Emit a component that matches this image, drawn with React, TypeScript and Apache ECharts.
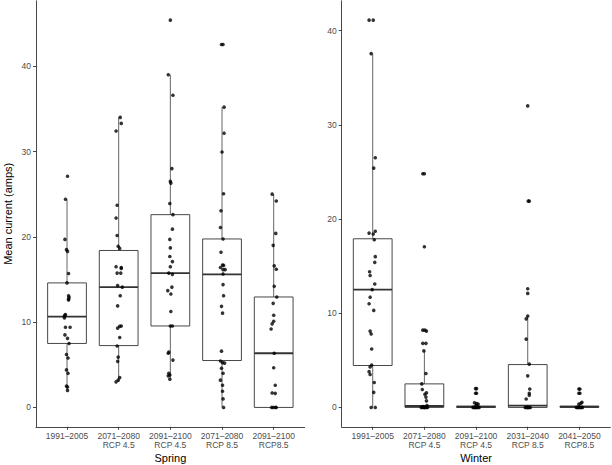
import React, { useEffect, useRef } from "react";
import * as echarts from "echarts";

const springCategories = ["1991–2005", "2071–2080\nRCP 4.5", "2091–2100\nRCP 4.5", "2071–2080\nRCP 8.5", "2091–2100\nRCP8.5"];
const winterCategories = ["1991–2005", "2071–2080\nRCP 4.5", "2091–2100\nRCP 4.5", "2031–2040\nRCP 8.5", "2041–2050\nRCP8.5"];
const yTicks = [0, 10, 20, 30, 40];

// box stats: [min whisker, Q1, median, Q3, max whisker]
const springBoxes = [
  [2.0, 7.5, 10.65, 14.6, 24.4],
  [3.0, 7.25, 14.1, 18.4, 34.0],
  [3.3, 9.55, 15.75, 22.6, 39.0],
  [0, 5.5, 15.6, 19.75, 35.2],
  [0, 0, 6.35, 12.95, 25.0],
];
const winterBoxes = [
  [0, 4.45, 12.5, 17.9, 37.55],
  [0, 0, 0.15, 2.5, 6.0],
  [0, 0, 0.05, 0.15, 0.35],
  [0, 0, 0.2, 4.55, 9.7],
  [0, 0, 0.05, 0.15, 0.35],
];

// points: [jitter offset (category units), value]
const spring1 = [[0.01,27.1],[-0.03,24.4],[-0.04,19.7],[-0.01,18.5],[0.01,18.3],[0.03,15.7],[0,14.6],[0.03,13.1],[0.04,12.9],[0.03,12.7],[0.03,12.6],[-0.03,10.9],[-0.04,10.8],[-0.05,10.7],[-0.05,10.5],[-0.03,9.4],[0.06,9.4],[-0.04,8.5],[0.01,8.1],[0.04,7.5],[-0.01,6.2],[0.02,5.8],[-0.01,4.4],[0.02,4.0],[-0.01,2.5],[0.01,2.4],[0.01,2.0]];
const spring2 = [[0.03,34.0],[0.05,33.3],[-0.05,32.4],[-0.03,23.7],[-0.05,22.2],[-0.03,20.15],[-0.01,18.9],[0.02,18.65],[-0.05,16.5],[0.05,16.4],[0.05,16.3],[-0.03,15.75],[0.04,15.75],[-0.02,14.3],[0.07,14.1],[0.03,13.1],[-0.02,11.9],[0.05,9.55],[0.02,9.5],[-0.02,9.3],[0.02,8.2],[-0.03,7.2],[-0.01,5.9],[-0.02,5.4],[0.02,3.5],[-0.01,3.2],[-0.05,3.0]];
const spring3 = [[0,45.4],[-0.04,39.0],[0.05,36.6],[0.03,28.0],[0,26.5],[0.01,26.3],[-0.01,23.9],[0.05,22.6],[0.04,20.9],[-0.01,19.7],[0,18.7],[-0.01,17.7],[0.04,17.1],[0,16.5],[-0.03,15.75],[0.04,15.6],[0.03,14.1],[-0.05,13.7],[0.01,13.3],[0.01,11.25],[0,9.55],[0.04,9.55],[-0.03,6.5],[-0.04,6.35],[0.05,5.55],[-0.03,4.0],[-0.01,3.8],[-0.04,3.7],[-0.01,3.3]];
const spring4 = [[-0.01,42.55],[0.02,42.55],[0.04,35.2],[0.04,32.15],[0,29.95],[0.03,25.05],[-0.02,23.05],[-0.03,21.1],[0.02,19.75],[-0.02,18.2],[0.01,16.7],[0.03,16.65],[-0.03,16.4],[0.02,16.15],[0.06,16.15],[0.02,15.65],[0.02,14.4],[0.03,13.1],[-0.01,11.85],[0.01,11.05],[-0.01,6.6],[-0.03,5.45],[0.01,5.25],[0.05,5.2],[-0.01,4.6],[0.02,4.0],[-0.03,3.2],[0.01,2.6],[0.01,1.9],[0.02,1.0],[0.03,0.0]];
const spring5 = [[-0.03,25.0],[0.05,24.2],[0.04,20.4],[-0.01,19.0],[0.01,16.6],[0.05,16.2],[0.01,14.2],[0.06,12.95],[-0.01,12.2],[0,10.8],[0,10.1],[-0.03,9.8],[-0.05,9.2],[0.01,6.35],[0,4.65],[0.03,2.6],[-0.03,1.7],[0.03,1.65],[-0.04,0],[-0.01,0],[0.03,0],[0.05,0]];

const winter1 = [[-0.07,41.1],[0.01,41.1],[-0.03,37.55],[0.05,26.5],[0.02,25.4],[0.05,18.7],[-0.07,18.5],[0.01,18.4],[0.03,17.8],[0.05,16.0],[0.04,15.4],[-0.06,14.4],[-0.05,14.0],[0.04,13.1],[-0.01,12.5],[-0.05,11.7],[-0.07,11.0],[0.02,10.3],[-0.05,8.1],[-0.03,7.8],[-0.02,6.2],[-0.02,4.5],[-0.05,4.3],[-0.07,3.8],[-0.05,3.5],[0.03,2.65],[0.02,1.6],[-0.03,0],[0.05,0]];
const winter2 = [[-0.03,24.8],[0,24.8],[0,17.05],[-0.03,8.2],[0.01,8.2],[0.04,8.1],[-0.03,6.8],[0.03,6.8],[-0.01,6.0],[0.03,3.6],[-0.05,2.5],[-0.04,1.9],[0.04,1.55],[0.01,1.4],[0.03,1.1],[0.04,0.7],[0.05,0.2],[-0.03,0.1],[-0.06,0],[-0.04,0],[-0.01,0],[0,0],[0.01,0],[0.04,0],[0.06,0]];
const winter3 = [[-0.01,2.0],[0.01,2.0],[-0.01,1.5],[0.01,1.5],[-0.03,0.5],[0.01,0.4],[0.04,0.35],[0,0.2],[-0.06,0],[-0.04,0],[-0.03,0],[-0.01,0],[0,0],[0.01,0],[0.04,0],[0.06,0]];
const winter4 = [[0,32.0],[0.01,21.9],[0.03,21.9],[0,12.6],[0,12.1],[0,9.7],[-0.03,9.4],[-0.03,7.25],[0.03,4.6],[0,3.35],[0.04,1.95],[0.03,1.5],[0.03,1.3],[-0.03,0.9],[-0.05,0],[-0.03,0],[-0.01,0],[0,0],[0.01,0],[0.03,0],[0.05,0]];
const winter5 = [[-0.01,1.95],[0.01,1.95],[-0.01,1.5],[0.01,1.5],[0.03,0.45],[0.05,0.55],[-0.01,0.35],[-0.06,0],[-0.04,0],[-0.02,0],[0,0],[0.02,0],[0.04,0],[0.06,0]];

const springPoints = [spring1, spring2, spring3, spring4, spring5];
const winterPoints = [winter1, winter2, winter3, winter4, winter5];

const FONT = "'Liberation Sans', Arial, sans-serif";
const LINE = "#333333";

function range(groups: number[][][]) {
  let max = 0;
  groups.forEach((g) => g.forEach((p) => { if (p[1] > max) max = p[1]; }));
  const pad = max * 0.05;
  return [-pad, max + pad];
}

function boxRender(params: any, api: any) {
  const x = api.value(0);
  const lo = api.coord([x, api.value(1)]);
  const q1 = api.coord([x, api.value(2)]);
  const med = api.coord([x, api.value(3)]);
  const q3 = api.coord([x, api.value(4)]);
  const hi = api.coord([x, api.value(5)]);
  const w = api.size([0.75, 0])[0];
  return {
    type: "group",
    children: [
      { type: "line", shape: { x1: q3[0], y1: q3[1], x2: hi[0], y2: hi[1] }, style: { stroke: "#555555", lineWidth: 0.9 } },
      { type: "line", shape: { x1: q1[0], y1: q1[1], x2: lo[0], y2: lo[1] }, style: { stroke: "#555555", lineWidth: 0.9 } },
      { type: "rect", shape: { x: q1[0] - w / 2, y: q3[1], width: w, height: q1[1] - q3[1] }, style: { fill: "#ffffff", stroke: LINE, lineWidth: 0.9 } },
      { type: "line", shape: { x1: med[0] - w / 2, y1: med[1], x2: med[0] + w / 2, y2: med[1] }, style: { stroke: LINE, lineWidth: 1.8 } },
    ],
  };
}

function makeAxes(idx: number, cats: string[], yr: number[], title: string, showYName: boolean) {
  const xAxis = {
    type: "value",
    gridIndex: idx,
    min: 0.4,
    max: 5.6,
    name: title,
    nameLocation: "middle",
    nameGap: 26,
    nameMoveOverlap: false,
    nameTextStyle: { color: "#000", fontSize: 11, fontFamily: FONT },
    axisLine: { show: true, onZero: false, lineStyle: { color: LINE, width: 0.9 } },
    axisTick: { show: true, length: 3, customValues: [1, 2, 3, 4, 5], lineStyle: { color: LINE, width: 0.9 } },
    axisLabel: {
      show: true,
      customValues: [1, 2, 3, 4, 5],
      formatter: (v: number) => cats[Math.round(v) - 1],
      color: "#4d4d4d",
      fontSize: 8.5,
      lineHeight: 9,
      margin: 5,
      fontFamily: FONT,
    },
    splitLine: { show: false },
  };
  const yAxis = {
    type: "value",
    gridIndex: idx,
    min: yr[0],
    max: yr[1],
    name: showYName ? "Mean current (amps)" : "",
    nameLocation: "middle",
    nameGap: 23,
    nameMoveOverlap: false,
    nameTextStyle: { color: "#000", fontSize: 11, fontFamily: FONT },
    axisLine: { show: true, onZero: false, lineStyle: { color: LINE, width: 0.9 } },
    axisTick: { show: true, length: 3, customValues: yTicks, lineStyle: { color: LINE, width: 0.9 } },
    axisLabel: { show: true, customValues: yTicks, color: "#4d4d4d", fontSize: 8.5, margin: 5, fontFamily: FONT },
    splitLine: { show: false },
  };
  return { xAxis, yAxis };
}

export default function App() {
  const ref = useRef<HTMLDivElement>(null);
  useEffect(() => {
    if (!ref.current) return;
    const chart = echarts.init(ref.current, undefined, { renderer: "svg" });
    const sr = range(springPoints);
    const wr = range(winterPoints);
    const a0 = makeAxes(0, springCategories, sr, "Spring", true);
    const a1 = makeAxes(1, winterCategories, wr, "Winter", false);

    const boxData = (boxes: number[][]) => boxes.map((b, i) => [i + 1, ...b]);
    const pointData = (groups: number[][][]) => {
      const out: number[][] = [];
      groups.forEach((g, i) => g.forEach((p) => out.push([i + 1 + p[0], p[1]])));
      return out;
    };

    chart.setOption({
      animation: false,
      backgroundColor: "#ffffff",
      grid: [
        { left: 36, top: 0.8, width: 268.7, height: 426, containLabel: false, outerBoundsMode: "none" },
        { left: 341.7, top: 0.8, width: 268.7, height: 426, containLabel: false, outerBoundsMode: "none" },
      ],
      xAxis: [a0.xAxis, a1.xAxis],
      yAxis: [a0.yAxis, a1.yAxis],
      series: [
        { type: "custom", xAxisIndex: 0, yAxisIndex: 0, renderItem: boxRender, encode: { x: 0, y: [1, 2, 3, 4, 5] }, data: boxData(springBoxes), silent: true },
        { type: "custom", xAxisIndex: 1, yAxisIndex: 1, renderItem: boxRender, encode: { x: 0, y: [1, 2, 3, 4, 5] }, data: boxData(winterBoxes), silent: true },
        { type: "scatter", xAxisIndex: 0, yAxisIndex: 0, symbolSize: 3.6, itemStyle: { color: "#000" }, data: pointData(springPoints), silent: true },
        { type: "scatter", xAxisIndex: 1, yAxisIndex: 1, symbolSize: 3.6, itemStyle: { color: "#000" }, data: pointData(winterPoints), silent: true },
      ],
    });
    return () => chart.dispose();
  }, []);
  return <div ref={ref} style={{ position: "fixed", left: 0, top: 0, width: 612, height: 465 }} />;
}
